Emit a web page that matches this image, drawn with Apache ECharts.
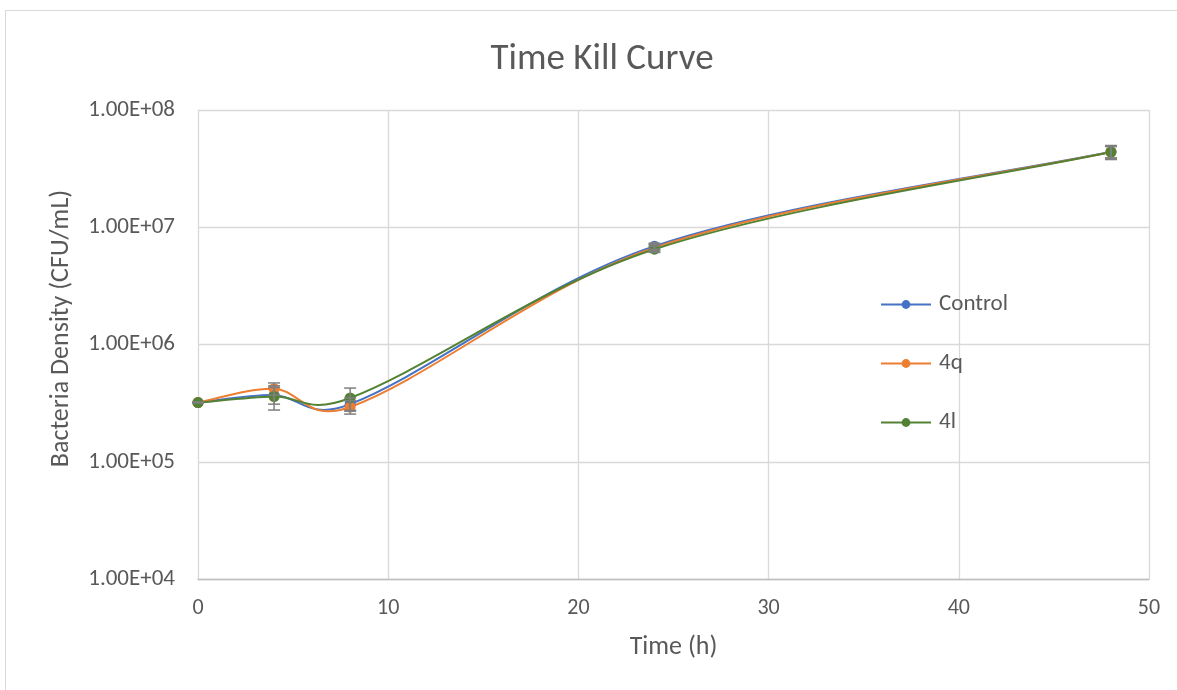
<!DOCTYPE html>
<html>
<head>
<meta charset="utf-8">
<script src="https://cdn.jsdelivr.net/npm/echarts@6/dist/echarts.min.js"></script>
<style>
  html, body { margin: 0; padding: 0; background: #fff; }
  #chart { width: 1177px; height: 690px; }
</style>
</head>
<body>
<div id="chart"></div>
<script>
// Sampling times (h)
const hours = [0, 4, 8, 24, 48];

// Mean bacterial density (CFU/mL) per treatment
const controlCfu = [3.2e5, 3.7e5, 3.1e5, 6.9e6, 4.40e7];
const cfu4q      = [3.2e5, 4.2e5, 2.93e5, 6.7e6, 4.38e7];
const cfu4l      = [3.2e5, 3.6e5, 3.5e5, 6.5e6, 4.38e7];

// Standard deviations (CFU/mL)
const controlSd = [0, 0.6e5, 0.4e5, 0.4e6, 5e6];
const sd4q      = [0, 0.5e5, 0.38e5, 0.4e6, 5e6];
const sd4l      = [0, 0.84e5, 0.75e5, 0.4e6, 6e6];

const yTicks = ['1.00E+04', '1.00E+05', '1.00E+06', '1.00E+07', '1.00E+08'];

const FONT = 'Carlito, "Open Sans", sans-serif';
const TEXT = '#595959';
const COLORS = { 'Control': '#4472C4', '4q': '#ED7D31', '4l': '#548235' };

function sciLabel(v) {
  const e = Math.round(Math.log10(v));
  const label = '1.00E' + (e < 0 ? '-' : '+') + String(Math.abs(e)).padStart(2, '0');
  return yTicks.includes(label) ? label : '';
}

function pairs(ys) { return hours.map((h, i) => [h, ys[i]]); }

function dist(a, b) { return Math.hypot(b[0] - a[0], b[1] - a[1]); }

// Tangent scale at a point: blend of a plain Catmull-Rom factor (1/6) and a
// length-weighted factor, so short segments next to long ones don't overshoot.
function tangentScale(prev, cur, next, side) {
  const dPrev = dist(prev, cur);
  const dNext = dist(cur, next);
  const sum = dPrev + dNext;
  const w = sum > 0 ? (side === 'out' ? dNext : dPrev) / sum : 0.5;
  return (1 / 6 + w / 3) / 2;
}

// Smoothed connecting curve drawn as cubic Bezier segments in pixel space.
function curveSeries(name, ys) {
  const pts = pairs(ys);
  return {
    type: 'custom',
    name: name,
    z: 2,
    silent: true,
    data: pts.slice(0, -1).map((p, i) => [p[0], p[1], i]),
    renderItem: function (params, api) {
      const i = api.value(2);
      const c = pts.map(p => api.coord(p));
      const n = c.length;
      const p0 = c[Math.max(i - 1, 0)];
      const p1 = c[i];
      const p2 = c[i + 1];
      const p3 = c[Math.min(i + 2, n - 1)];
      const k1 = tangentScale(p0, p1, p2, 'out');
      const k2 = tangentScale(p1, p2, p3, 'in');
      return {
        type: 'bezierCurve',
        shape: {
          x1: p1[0], y1: p1[1],
          x2: p2[0], y2: p2[1],
          cpx1: p1[0] + (p2[0] - p0[0]) * k1, cpy1: p1[1] + (p2[1] - p0[1]) * k1,
          cpx2: p2[0] - (p3[0] - p1[0]) * k2, cpy2: p2[1] - (p3[1] - p1[1]) * k2
        },
        style: { fill: 'none', stroke: COLORS[name], lineWidth: 2 }
      };
    }
  };
}

function errorSeries(name, ys, sds) {
  return {
    type: 'custom',
    name: name,
    z: 5,
    silent: true,
    data: hours.map((h, i) => [h, ys[i] - sds[i], ys[i] + sds[i]]),
    renderItem: function (params, api) {
      const lo = api.coord([api.value(0), api.value(1)]);
      const hi = api.coord([api.value(0), api.value(2)]);
      const w = 6;
      const style = { stroke: '#7f7f7f', lineWidth: 1.5 };
      return {
        type: 'group',
        children: [
          { type: 'line', shape: { x1: lo[0], y1: lo[1], x2: hi[0], y2: hi[1] }, style: style },
          { type: 'line', shape: { x1: lo[0] - w, y1: lo[1], x2: lo[0] + w, y2: lo[1] }, style: style },
          { type: 'line', shape: { x1: hi[0] - w, y1: hi[1], x2: hi[0] + w, y2: hi[1] }, style: style }
        ]
      };
    }
  };
}

// Markers (the connecting curve is drawn by curveSeries)
function markerSeries(name, ys) {
  return {
    type: 'line',
    name: name,
    data: pairs(ys),
    symbol: 'circle',
    symbolSize: 11,
    z: 3,
    color: COLORS[name],
    lineStyle: { color: COLORS[name], width: 2, opacity: 0 },
    itemStyle: { color: COLORS[name] },
    emphasis: { disabled: true }
  };
}

function legendItem(name) {
  return {
    name: name,
    itemStyle: { color: COLORS[name] },
    lineStyle: { color: COLORS[name], width: 2, opacity: 1 }
  };
}

const chart = echarts.init(document.getElementById('chart'), null, { renderer: 'canvas' });
chart.setOption({
  animation: false,
  backgroundColor: '#fff',
  graphic: [{
    type: 'rect',
    shape: { x: 5.5, y: 10.5, width: 1200, height: 700 },
    style: { fill: 'none', stroke: '#d9d9d9', lineWidth: 1 },
    silent: true, z: -1
  }],
  title: {
    text: 'Time Kill Curve',
    left: 597,
    textAlign: 'center',
    top: 36,
    textStyle: { fontFamily: FONT, fontSize: 37, fontWeight: 'normal', color: TEXT }
  },
  legend: {
    orient: 'vertical',
    left: 875,
    top: 288,
    itemGap: 36,
    itemWidth: 50,
    itemHeight: 11,
    data: ['Control', '4q', '4l'].map(legendItem),
    textStyle: { fontFamily: FONT, fontSize: 23, color: TEXT, padding: [0, 0, 0, 3] }
  },
  grid: { left: 198, right: 28, top: 110, bottom: 111, containLabel: false },
  xAxis: {
    type: 'value',
    min: 0, max: 50, interval: 10,
    name: 'Time (h)',
    nameLocation: 'middle',
    nameGap: 55,
    nameTextStyle: { fontFamily: FONT, fontSize: 26, color: TEXT },
    axisLine: { show: true, onZero: false, lineStyle: { color: '#bfbfbf', width: 1.3 } },
    axisTick: { show: false },
    axisLabel: { fontFamily: FONT, fontSize: 22, color: TEXT, margin: 18 },
    splitLine: { show: true, lineStyle: { color: '#d9d9d9', width: 1.3 } }
  },
  yAxis: {
    type: 'log',
    logBase: 10,
    min: 1e4, max: 1e8,
    name: 'Bacteria Density (CFU/mL)',
    nameLocation: 'middle',
    nameGap: 124,
    nameTextStyle: { fontFamily: FONT, fontSize: 26, color: TEXT, padding: [0, 0, 0, 32] },
    axisLine: { show: false },
    axisTick: { show: false },
    axisLabel: { fontFamily: FONT, fontSize: 23, color: TEXT, margin: 23, formatter: sciLabel },
    splitLine: { show: true, lineStyle: { color: '#d9d9d9', width: 1.3 } }
  },
  series: [
    markerSeries('Control', controlCfu),
    markerSeries('4q', cfu4q),
    markerSeries('4l', cfu4l),
    curveSeries('Control', controlCfu),
    curveSeries('4q', cfu4q),
    curveSeries('4l', cfu4l),
    errorSeries('Control', controlCfu, controlSd),
    errorSeries('4q', cfu4q, sd4q),
    errorSeries('4l', cfu4l, sd4l)
  ]
});
</script>
</body>
</html>
